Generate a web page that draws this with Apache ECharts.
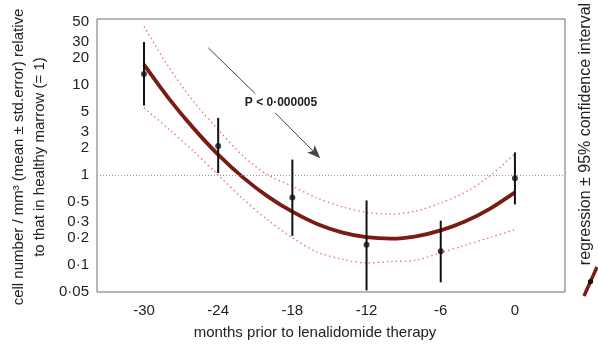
<!DOCTYPE html>
<html>
<head>
<meta charset="utf-8">
<script src="https://cdn.jsdelivr.net/npm/echarts@6/dist/echarts.min.js"></script>
<style>
  html, body { margin: 0; padding: 0; background: #fff; }
  #chart { width: 598px; height: 344px; }
</style>
</head>
<body>
<div id="chart"></div>
<script>
// observed means with std.error bars
var months = [-30, -24, -18, -12, -6, 0];
var means = [13.2, 2.1, 0.56, 0.167, 0.142, 0.92];
var errHigh = [30, 4.3, 1.48, 0.52, 0.31, 1.78];
var errLow = [5.9, 1.05, 0.21, 0.052, 0.064, 0.47];

// regression curve and 95% confidence band, every 2 months
var fitMonths = [-30, -28, -26, -24, -22, -20, -18, -16, -14, -12, -10, -8, -6, -4, -2, 0];
var fitValues = [16.8, 7.1, 3.31, 1.68, 0.94, 0.578, 0.39, 0.285, 0.23, 0.203, 0.196, 0.208, 0.242, 0.306, 0.423, 0.64];
var ciUpper = [44.8, 15.8, 6.57, 3.19, 1.63, 1.0, 0.747, 0.553, 0.443, 0.384, 0.366, 0.397, 0.489, 0.643, 0.98, 1.72];
var ciLower = [5.55, 3.24, 1.83, 1.0, 0.542, 0.317, 0.2, 0.139, 0.116, 0.105, 0.109, 0.113, 0.136, 0.166, 0.202, 0.247];

var xTicks = [-30, -24, -18, -12, -6, 0];
var yTicks = [0.05, 0.1, 0.2, 0.3, 0.5, 1, 2, 3, 5, 10, 20, 30, 50];

var font = 'Liberation Sans, Arial, sans-serif';

function pairs(xs, ys) {
    return xs.map(function (x, i) { return [x, ys[i]]; });
}

var chart = echarts.init(document.getElementById('chart'));
var option = {
    animation: false,
    textStyle: { fontFamily: font },
    grid: {
        left: 97, right: 33, top: 19, bottom: 52,
        show: true, borderColor: '#6e6e6e', borderWidth: 1
    },
    xAxis: {
        type: 'value',
        min: -33.8,
        max: 4.05,
        splitLine: { show: false },
        axisLine: { show: false },
        axisTick: { show: false },
        axisLabel: {
            customValues: xTicks,
            fontSize: 15, color: '#222', margin: 11, fontFamily: font
        }
    },
    yAxis: {
        type: 'log',
        logBase: 10,
        min: 0.05,
        max: 54,
        splitLine: { show: false },
        axisLine: { show: false },
        axisTick: { show: false },
        axisLabel: {
            customValues: yTicks,
            fontSize: 15, color: '#222', margin: 8, fontFamily: font,
            formatter: function (v) { return String(+v.toPrecision(3)).replace('.', '\u00b7'); }
        }
    },
    series: [
        {
            type: 'line',
            data: pairs(fitMonths, ciUpper),
            smooth: 0.3,
            symbol: 'none',
            lineStyle: { color: '#f26d6d', width: 1.3, type: [1.5, 3] },
            markLine: {
                silent: true,
                symbol: ['none', 'none'],
                label: { show: false },
                lineStyle: { color: '#999', width: 1, type: [1, 2] },
                data: [{ yAxis: 1 }]
            }
        },
        {
            type: 'line',
            data: pairs(fitMonths, ciLower),
            smooth: 0.3,
            symbol: 'none',
            lineStyle: { color: '#f26d6d', width: 1.3, type: [1.5, 3] }
        },
        {
            type: 'line',
            data: pairs(fitMonths, fitValues),
            smooth: 0.3,
            symbol: 'none',
            lineStyle: { color: '#7a1c14', width: 3.8 },
            markLine: {
                silent: true,
                label: { show: false },
                lineStyle: { color: '#444', width: 1, type: 'solid' },
                data: [
                    [{ coord: [-24.8, 25.8], symbol: 'none' }, { coord: [-21.0, 8.0], symbol: 'none' }],
                    [{ coord: [-19.4, 4.9], symbol: 'none' }, { coord: [-15.76, 1.54], symbol: 'arrow', symbolSize: [8, 13] }]
                ]
            }
        },
        {
            type: 'custom',
            data: months.map(function (m, i) { return [m, errLow[i], errHigh[i]]; }),
            renderItem: function (params, api) {
                var lo = api.coord([api.value(0), api.value(1)]);
                var hi = api.coord([api.value(0), api.value(2)]);
                return {
                    type: 'line',
                    shape: { x1: lo[0], y1: lo[1], x2: hi[0], y2: hi[1] },
                    style: { stroke: '#111', lineWidth: 2 }
                };
            },
            z: 5
        },
        {
            type: 'scatter',
            data: pairs(months, means),
            symbol: 'circle',
            symbolSize: 6,
            itemStyle: { color: '#111' },
            z: 6
        }
    ],
    graphic: [
        {
            type: 'text',
            x: 29, y: 157,
            rotation: Math.PI / 2,
            style: {
                text: 'cell number / mm\u00b3 (mean \u00b1 std.error) relative\nto that in healthy marrow (= 1)',
                font: '15px ' + font,
                fill: '#222',
                align: 'center',
                verticalAlign: 'middle',
                lineHeight: 21
            }
        },
        {
            type: 'text',
            x: 315, y: 333,
            style: {
                text: 'months prior to lenalidomide therapy',
                font: '15px ' + font,
                fill: '#222',
                align: 'center',
                verticalAlign: 'middle'
            }
        },
        {
            type: 'text',
            x: 281, y: 103,
            style: {
                text: 'P < 0\u00b7000005',
                font: 'bold 12px ' + font,
                fill: '#222',
                align: 'center',
                verticalAlign: 'middle'
            }
        },
        {
            type: 'text',
            x: 586, y: 134,
            rotation: Math.PI / 2,
            style: {
                text: 'regression \u00b1 95% confidence interval',
                font: '16px ' + font,
                fill: '#222',
                align: 'center',
                verticalAlign: 'middle'
            }
        },
        {
            type: 'line',
            shape: { x1: 584, y1: 296, x2: 597, y2: 267 },
            style: { stroke: '#7a1c14', lineWidth: 3.5 }
        },
        {
            type: 'circle',
            shape: { cx: 590.5, cy: 281.5, r: 2.6 },
            style: { fill: '#111' }
        }
    ]
};
chart.setOption(option);
</script>
</body>
</html>
